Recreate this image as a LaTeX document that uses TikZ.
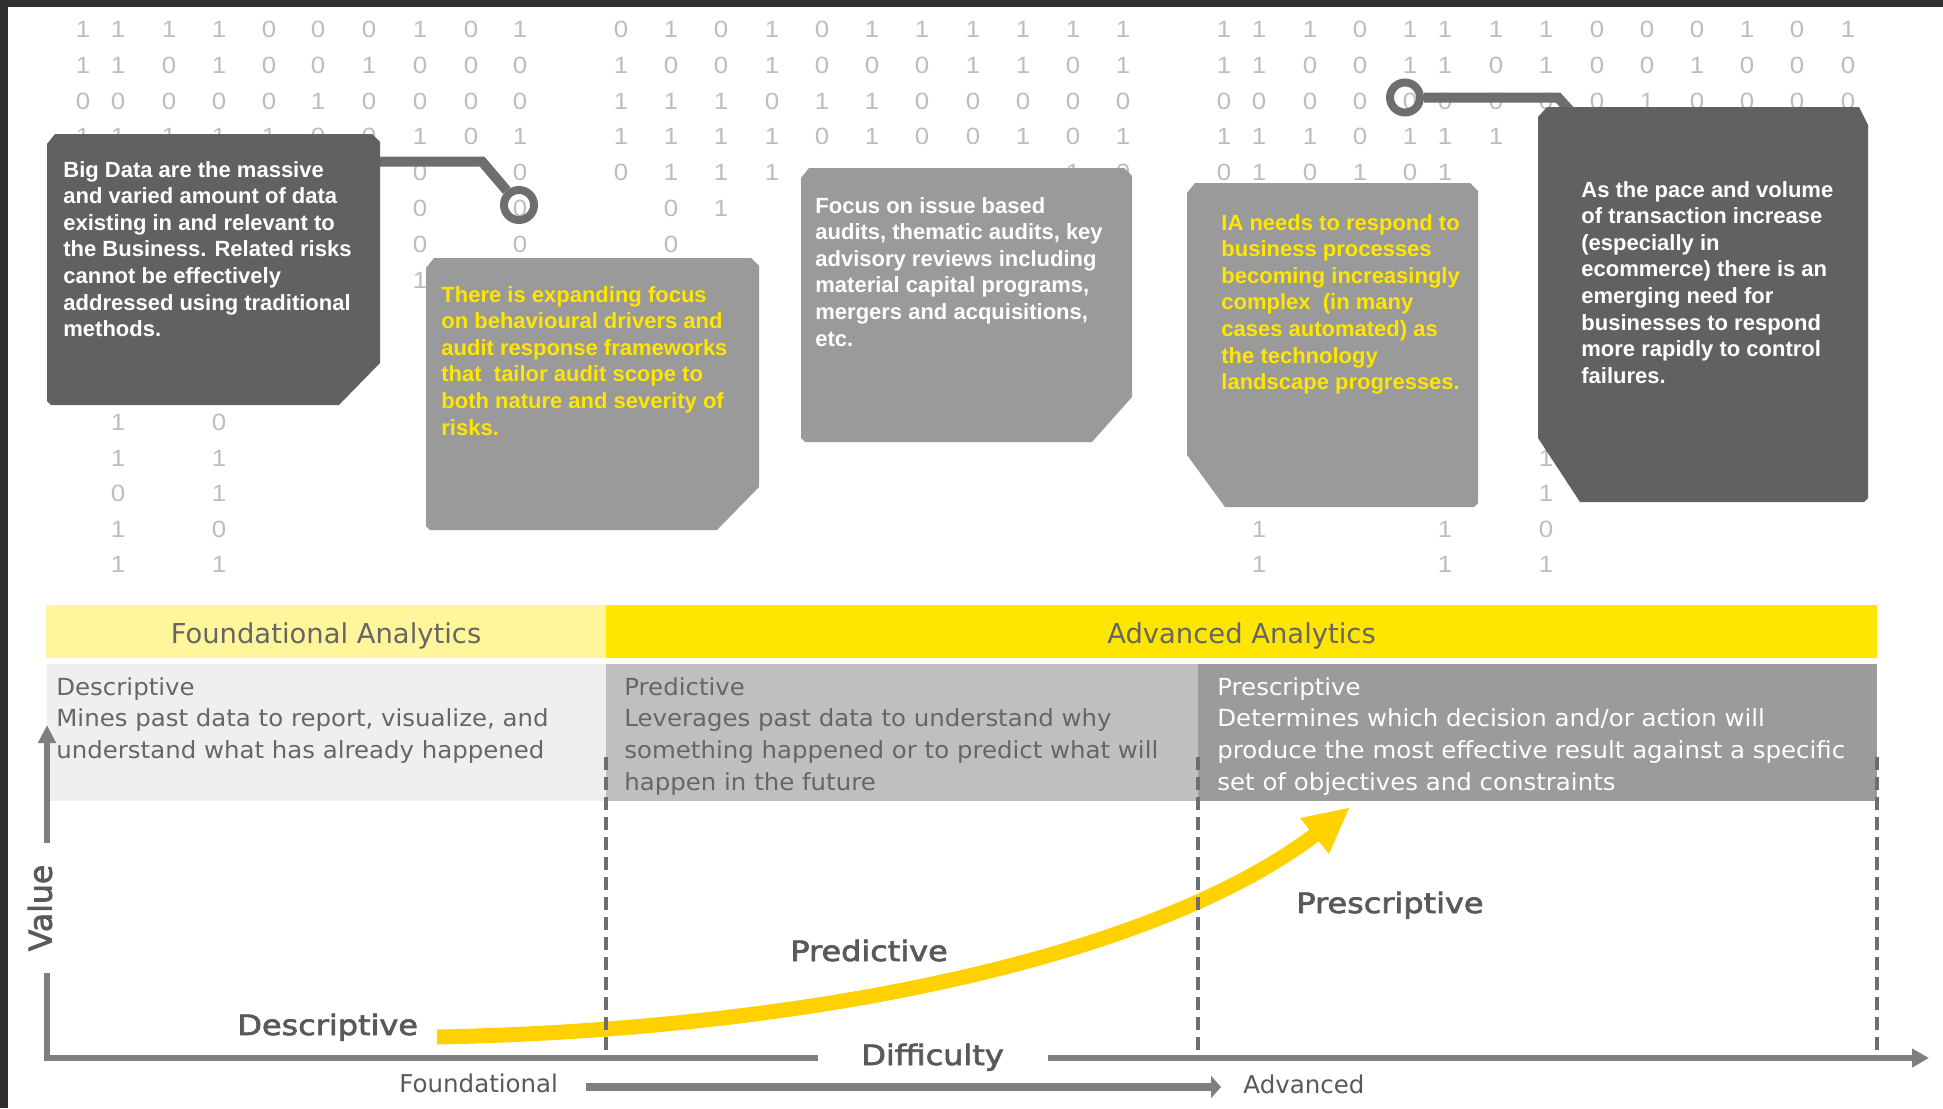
\documentclass[tikz,border=0pt]{standalone}
\usepackage{fontspec}
\setmainfont{Liberation Sans}
\newfontfamily\boxfont{Liberation Sans}
\newfontfamily\digfont[FakeStretch=1.1]{Liberation Sans}
\newfontfamily\tabfont[FakeStretch=1.04]{DejaVu Sans}
\newfontfamily\labfont{DejaVu Sans}
\newfontfamily\chartfont[FakeStretch=1.14,FakeBold=2.5]{DejaVu Sans}
\usetikzlibrary{arrows.meta,calc}

\definecolor{framec}{HTML}{303030}
\definecolor{digitc}{HTML}{BDBDBD}
\definecolor{boxdark}{HTML}{616161}
\definecolor{boxmid}{HTML}{9A9A9A}
\definecolor{connc}{HTML}{6E6E6E}
\definecolor{yellowtxt}{HTML}{FFE600}
\definecolor{bandlight}{HTML}{FFF59B}
\definecolor{bandyellow}{HTML}{FFE600}
\definecolor{cella}{HTML}{EFEFEF}
\definecolor{cellb}{HTML}{BFBFBF}
\definecolor{cellc}{HTML}{9B9B9B}
\definecolor{tabtxt}{HTML}{666666}
\definecolor{axisc}{HTML}{7F7F7F}
\definecolor{dashc}{HTML}{6E6E6E}
\definecolor{curvec}{HTML}{FFD100}
\definecolor{labc}{HTML}{595959}

% left-aligned block of lines whose baseline is the first line
\newcommand\txtlines[1]{\vtop{\halign{##\hfil\cr#1\crcr}}}
% one row of binary digits: #1 = y, #2 = list of x/digit
\newcommand\digitrow[2]{%
  \foreach \dx/\dv in {#2}{\node[digit] (d\dx-#1) at (\dx,#1) {\dv};}}

\begin{document}
\begin{tikzpicture}[x=0.5pt,y=-0.5pt,
  digit/.style={font=\digfont\fontsize{11.75pt}{14pt}\selectfont, text=digitc, inner sep=0pt, anchor=center},
  boxtxt/.style={font=\boxfont\bfseries\fontsize{11pt}{13.3pt}\selectfont, inner sep=0pt, anchor=base west},
  ring/.style={circle, draw=connc, line width=4pt, minimum size=15pt, inner sep=0pt},
  conn/.style={draw=connc, line width=5pt},
  headtxt/.style={font=\labfont\fontsize{13.7pt}{16pt}\selectfont, text=tabtxt, inner sep=0pt, anchor=base},
  celltxt/.style={font=\tabfont\fontsize{11.75pt}{15.85pt}\selectfont, inner sep=0pt, anchor=base west},
  chartlab/.style={font=\chartfont\fontsize{14pt}{16pt}\selectfont, text=labc, inner sep=0pt, anchor=base west},
  smalllab/.style={font=\labfont\fontsize{12.25pt}{14pt}\selectfont, text=labc, inner sep=0pt, anchor=base west},
  axis/.style={draw=axisc, line width=3pt},
  dashline/.style={draw=dashc, line width=2pt, dash pattern=on 6.5pt off 3.5pt},
  curve/.style={draw=curvec, line width=7.5pt}
]
\useasboundingbox (0,0) rectangle (1943,1108);
\fill[white] (0,0) rectangle (1943,1108);
\fill[framec] (0,0) rectangle (1943,7);
\fill[framec] (0,0) rectangle (8,1108);

% ---------- binary digit background ----------
\digitrow{29}{83/1,118/1,169/1,219/1,269/0,318/0,369/0,420/1,471/0,520/1,
  621/0,671/1,721/0,772/1,822/0,872/1,922/1,973/1,1023/1,1073/1,1123/1,
  1224/1,1259/1,1310/1,1360/0,1410/1,1445/1,1496/1,1546/1,1597/0,1647/0,1697/0,1747/1,1797/0,1848/1}
\digitrow{65}{83/1,118/1,169/0,219/1,269/0,318/0,369/1,420/0,471/0,520/0,
  621/1,671/0,721/0,772/1,822/0,872/0,922/0,973/1,1023/1,1073/0,1123/1,
  1224/1,1259/1,1310/0,1360/0,1410/1,1445/1,1496/0,1546/1,1597/0,1647/0,1697/1,1747/0,1797/0,1848/0}
\digitrow{101}{83/0,118/0,169/0,219/0,269/0,318/1,369/0,420/0,471/0,520/0,
  621/1,671/1,721/1,772/0,822/1,872/1,922/0,973/0,1023/0,1073/0,1123/0,
  1224/0,1259/0,1310/0,1360/0,1410/0,1445/0,1496/0,1546/0,1597/0,1647/1,1697/0,1747/0,1797/0,1848/0}
\digitrow{136}{83/1,118/1,169/1,219/1,269/1,318/0,369/0,420/1,471/0,520/1,
  621/1,671/1,721/1,772/1,822/0,872/1,922/0,973/0,1023/1,1073/0,1123/1,
  1224/1,1259/1,1310/1,1360/0,1410/1,1445/1,1496/1}
\digitrow{172}{420/0,520/0,621/0,671/1,721/1,772/1,1073/1,1123/0,
  1224/0,1259/1,1310/0,1360/1,1410/0,1445/1}
\digitrow{208}{420/0,520/0,671/0,721/1}
\digitrow{244}{420/0,520/0,671/0}
\digitrow{280}{420/1}
\digitrow{422}{118/1,219/0}
\digitrow{458}{118/1,219/1,1546/1}
\digitrow{493}{118/0,219/1,1546/1}
\digitrow{529}{118/1,219/0,1259/1,1445/1,1546/0}
\digitrow{564}{118/1,219/1,1259/1,1445/1,1546/1}

% ---------- connectors with rings ----------
\node[ring] (ring1) at (519,205) {};
\node[ring] (ring2) at (1405,97.5) {};
\coordinate (b1e) at (376,161.5);
\coordinate (k1) at (482,161.5);
\coordinate (k2) at (1558,97.5);
\coordinate (b5t) at (1573,114);
\draw[conn] (b1e) -- (k1) -- (ring1);
\draw[conn] (ring2) -- (k2) -- (b5t);

% ---------- call-out boxes ----------
\fill[boxdark] (55,134) -- (372,134) -- (380,142) -- (380,363) -- (339,405)
  -- (51,405) -- (47,401) -- (47,144) -- cycle;
\fill[boxmid] (434,258) -- (751,258) -- (759,266) -- (759,487) -- (717,530)
  -- (430,530) -- (426,526) -- (426,268) -- cycle;
\fill[boxmid] (809,168) -- (1124,168) -- (1132,176) -- (1132,397) -- (1092,442)
  -- (805,442) -- (801,438) -- (801,178) -- cycle;
\fill[boxmid] (1195,183) -- (1470,183) -- (1478,191) -- (1478,503) -- (1474,507)
  -- (1225,507) -- (1187,455) -- (1187,193) -- cycle;
\fill[boxdark] (1547,107) -- (1859,107) -- (1868,125) -- (1868,498) -- (1864,502)
  -- (1580,502) -- (1538,438) -- (1538,117) -- cycle;

\node[boxtxt, text=white] (t1) at (63,177) {\txtlines{Big Data are the massive\cr
  and varied amount of data\cr existing in and relevant to\cr the Business. Related risks\cr
  cannot be effectively\cr addressed using traditional\cr methods.}};
\node[boxtxt, text=yellowtxt] (t2) at (441,302) {\txtlines{There is expanding focus\cr
  on behavioural drivers and\cr audit response frameworks\cr that~ tailor audit scope to\cr
  both nature and severity of\cr risks.}};
\node[boxtxt, text=white] (t3) at (815,213) {\txtlines{Focus on issue based\cr
  audits, thematic audits, key\cr advisory reviews including\cr material capital programs,\cr
  mergers and acquisitions,\cr etc.}};
\node[boxtxt, text=yellowtxt] (t4) at (1221,230) {\txtlines{IA needs to respond to\cr
  business processes\cr becoming increasingly\cr complex~ (in many\cr
  cases automated) as\cr the technology\cr landscape progresses.}};
\node[boxtxt, text=white] (t5) at (1581,197) {\txtlines{As the pace and volume\cr
  of transaction increase\cr (especially in\cr ecommerce) there is an\cr
  emerging need for\cr businesses to respond\cr more rapidly to control\cr failures.}};

% ---------- analytics bands and table ----------
\fill[bandlight] (46,605) rectangle (606,658);
\fill[bandyellow] (606,605) rectangle (1877,658);
\node[headtxt] (hfound) at (326,643) {Foundational Analytics};
\node[headtxt] (hadv) at (1241.5,643) {Advanced Analytics};

\fill[cella] (47,664) rectangle (606,801);
\fill[cellb] (606,664) rectangle (1198,801);
\fill[cellc] (1198,664) rectangle (1877,801);

\node[celltxt, text=tabtxt] (cdesc) at (56,695) {\txtlines{Descriptive\cr
  Mines past data to report, visualize, and\cr understand what has already happened}};
\node[celltxt, text=tabtxt] (cpred) at (624,695) {\txtlines{Predictive\cr
  Leverages past data to understand why\cr something happened or to predict what will\cr
  happen in the future}};
\node[celltxt, text=white] (cpres) at (1217,695) {\txtlines{Prescriptive\cr
  Determines which decision and/or action will\cr
  produce the most effective result against a specific\cr set of objectives and constraints}};

% ---------- value / difficulty chart ----------
\coordinate (origin) at (47,1058);
\draw[axis] (47,973) -- (origin) -- (818,1058);
\draw[axis, -{Triangle[length=9pt,width=8.5pt]}] (47,843) -- (47,725);
\draw[axis, -{Triangle[length=8.5pt,width=9pt]}] (1048,1058) -- (1929,1058);

\node[font=\chartfont\fontsize{15pt}{18pt}\selectfont, text=labc, inner sep=0pt, rotate=90]
  (val) at (40,908) {\scalebox{0.92}[1.05]{Value}};

\coordinate (cstart) at (437,1037);
\coordinate (cend) at (1316,834);
\draw[curve] (cstart) .. controls (800,1030) and (1150,960) .. (cend);
\fill[curvec] (1349,808) -- (1300,818) -- (1329,854) -- cycle;

\draw[dashline] (606,757) -- (606,1056);
\draw[dashline] (1198,757) -- (1198,1056);
\draw[dashline] (1877,757) -- (1877,1056);

\node[chartlab] (ldesc) at (237,1035) {Descriptive};
\node[chartlab] (lpred) at (790,961) {Predictive};
\node[chartlab] (lpres) at (1296,913) {Prescriptive};
\node[chartlab] (ldiff) at (861,1065) {Difficulty};

\node[smalllab] (fnd) at (399,1092) {Foundational};
\node[smalllab] (adv) at (1243,1093) {Advanced};
\coordinate (fa) at ($(fnd.base east)+(28,-5)$);
\draw[draw=axisc, line width=4pt, -{Triangle[length=5pt,width=11pt]}]
  (fa) -- ($(fa -| adv.west)+(-22,0)$);
\end{tikzpicture}
\end{document}
